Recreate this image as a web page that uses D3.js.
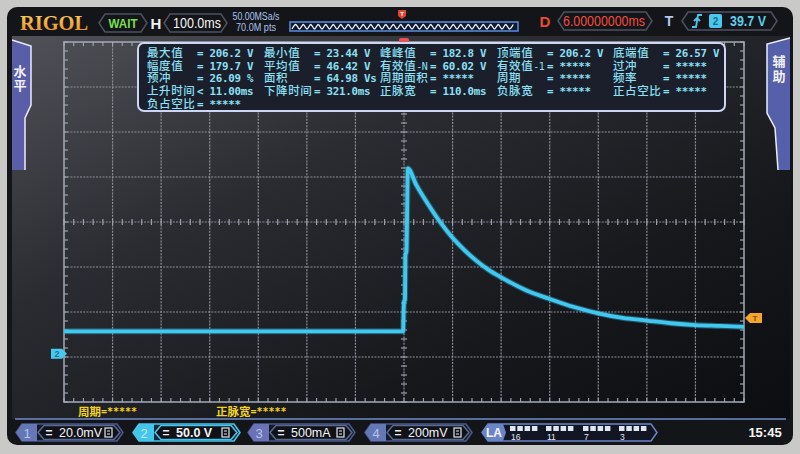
<!DOCTYPE html>
<html><head><meta charset="utf-8">
<script src="https://cdn.jsdelivr.net/npm/d3@7"></script>
<style>html,body{margin:0;padding:0;background:#c8c9c6;}svg{display:block}</style>
</head><body><svg id="c" width="800" height="454"></svg>
<script>
// ---------------- data ----------------
const timeMs   = [-700, -2, 0, 2, 3, 5, 8, 25, 50, 75, 100, 125, 150, 175, 200, 250, 300, 350, 400, 450, 500, 550, 600, 650, 700];
const ch2Volts = [25, 25, 58, 60, 110, 114, 206, 188, 166, 146, 129, 115, 103, 93, 85, 71, 61, 52, 45, 40, 37, 34, 32, 31, 30];
const timePerDivMs = 100;
const voltsPerDiv = 50;
const ch2GroundDiv = -2.93;
const triggerLevelV = 39.7;
const hDivs = 14, vDivs = 8;

const measLabels = [
  ["最大值", "最小值", "峰峰值", "顶端值", "底端值"],
  ["幅度值", "平均值", "有效值-N", "有效值-1", "过冲"],
  ["预冲", "面积", "周期面积", "周期", "频率"],
  ["上升时间", "下降时间", "正脉宽", "负脉宽", "正占空比"],
  ["负占空比"]
];
const measValues = [
  ["= 206.2 V", "= 23.44 V", "= 182.8 V", "= 206.2 V", "= 26.57 V"],
  ["= 179.7 V", "= 46.42 V", "= 60.02 V", "= *****", "= *****"],
  ["= 26.09 %", "= 64.98 Vs", "= *****", "= *****", "= *****"],
  ["< 11.00ms", "= 321.0ms", "= 110.0ms", "= *****", "= *****"],
  ["= *****"]
];
const channelNames  = ["1", "2", "3", "4"];
const channelScales = ["20.0mV", "50.0 V", "500mA", "200mV"];
const laGroupLabels = ["16", "11", "7", "3"];
const bottomStatLabels = ["周期", "正脉宽"];
const bottomStatValues = ["=*****", "=*****"];
const sideTabLeft = "水平";
const sideTabRight = "辅助";

// ---------------- setup ----------------
const svg = d3.select("#c");
const defs = svg.append("defs");
const g1 = defs.append("linearGradient").attr("id","scr").attr("x1",0).attr("y1",0).attr("x2",1).attr("y2",1);
g1.append("stop").attr("offset",0).attr("stop-color","#505257");
g1.append("stop").attr("offset",0.35).attr("stop-color","#2a2c31");
g1.append("stop").attr("offset",0.7).attr("stop-color","#17181c");
g1.append("stop").attr("offset",1).attr("stop-color","#0c0d10");
const g2 = defs.append("linearGradient").attr("id","rig").attr("x1",0).attr("y1",0).attr("x2",0).attr("y2",1);
g2.append("stop").attr("offset",0).attr("stop-color","#ffd060");
g2.append("stop").attr("offset",1).attr("stop-color","#e88a20");

const CJK = "'Noto Sans CJK SC', sans-serif";
const MONO = "'DejaVu Sans Mono', monospace";
const SANS = "'Liberation Sans', Arial, sans-serif";

// bezel + screen
svg.append("rect").attr("width",800).attr("height",454).attr("fill","#c9cac7");
svg.append("rect").attr("x",7).attr("y",7).attr("width",786).attr("height",438).attr("rx",10).attr("fill","#141519");
svg.append("rect").attr("x",12).attr("y",36).attr("width",778).attr("height",383).attr("fill","url(#scr)");

// grid geometry
const gx0 = 64, gx1 = 744, gy0 = 42, gy1 = 402;
const xDiv = d3.scaleLinear().domain([-hDivs/2, hDivs/2]).range([gx0, gx1]);
const yDiv = d3.scaleLinear().domain([-vDivs/2, vDivs/2]).range([gy1, gy0]);
const x = d3.scaleLinear().domain([-hDivs/2*timePerDivMs, hDivs/2*timePerDivMs]).range([gx0, gx1]);
const y = d3.scaleLinear().domain([(-vDivs/2 - ch2GroundDiv)*voltsPerDiv, (vDivs/2 - ch2GroundDiv)*voltsPerDiv]).range([gy1, gy0]);

// side tabs
function vText(str, cx, cy, ls){
  svg.append("text").attr("x",cx).attr("y",cy).attr("writing-mode","vertical-rl").attr("text-anchor","middle")
    .attr("font-family",CJK).attr("font-size",13).attr("font-weight",700).attr("letter-spacing",ls)
    .attr("fill","#f2f2ff").text(str);
}
const tabL = [[12,40],[31,46],[31,105],[25,118],[25,170],[12,170]];
svg.append("path").attr("d", d3.line()(tabL) + "Z").attr("fill","#5a5ea8");
svg.append("path").attr("d", d3.line()([[12,40],[31,46],[31,105],[25,118],[25,170]])).attr("fill","none").attr("stroke","#e8ecff").attr("stroke-width",1.5);
vText(sideTabLeft, 20, 79, 1);
const tabR = [[790,38],[767,44],[767,113],[775,128],[778,170],[790,170]];
svg.append("path").attr("d", d3.line()(tabR) + "Z").attr("fill","#5560aa");
svg.append("path").attr("d", d3.line()([[790,38],[767,44],[767,113],[775,128],[778,170]])).attr("fill","none").attr("stroke","#e8ecff").attr("stroke-width",1.5);
vText(sideTabRight, 779, 70, 2);

// grid
const grid = svg.append("g");
const gridCol = "#8a8e97";
d3.range(-hDivs/2+1, hDivs/2).forEach(d => grid.append("line")
  .attr("x1",xDiv(d)).attr("x2",xDiv(d)).attr("y1",gy0).attr("y2",gy1)
  .attr("stroke",gridCol).attr("stroke-width",1.2).attr("stroke-dasharray","2,1.2"));
d3.range(-vDivs/2+1, vDivs/2).forEach(d => grid.append("line")
  .attr("y1",yDiv(d)).attr("y2",yDiv(d)).attr("x1",gx0).attr("x2",gx1)
  .attr("stroke",gridCol).attr("stroke-width",1.2).attr("stroke-dasharray","2,1.2"));
const tickCol = "#9aa0aa";
d3.range(-hDivs/2, hDivs/2 + 0.01, 0.2).forEach(d => {
  const xx = xDiv(d);
  grid.append("line").attr("x1",xx).attr("x2",xx).attr("y1",yDiv(0)-3).attr("y2",yDiv(0)+3).attr("stroke",tickCol).attr("stroke-width",1.2);
  grid.append("line").attr("x1",xx).attr("x2",xx).attr("y1",gy0).attr("y2",gy0+4).attr("stroke",tickCol).attr("stroke-width",1.2);
  grid.append("line").attr("x1",xx).attr("x2",xx).attr("y1",gy1-4).attr("y2",gy1).attr("stroke",tickCol).attr("stroke-width",1.2);
});
d3.range(-vDivs/2, vDivs/2 + 0.01, 0.2).forEach(d => {
  const yy = yDiv(d);
  grid.append("line").attr("y1",yy).attr("y2",yy).attr("x1",xDiv(0)-3).attr("x2",xDiv(0)+3).attr("stroke",tickCol).attr("stroke-width",1.2);
  grid.append("line").attr("y1",yy).attr("y2",yy).attr("x1",gx0).attr("x2",gx0+4).attr("stroke",tickCol).attr("stroke-width",1.2);
  grid.append("line").attr("y1",yy).attr("y2",yy).attr("x1",gx1-4).attr("x2",gx1).attr("stroke",tickCol).attr("stroke-width",1.2);
});
grid.append("rect").attr("x",gx0).attr("y",gy0).attr("width",gx1-gx0).attr("height",gy1-gy0)
  .attr("fill","none").attr("stroke","#a3aab8").attr("stroke-width",1.5);

// trace
const line = d3.line().x((d,i)=>x(timeMs[i])).y((d,i)=>y(ch2Volts[i])).curve(d3.curveMonotoneX);
svg.append("path").datum(ch2Volts).attr("d",line).attr("fill","none").attr("stroke","#2c9cc4").attr("stroke-width",6).attr("opacity",0.45);
svg.append("path").datum(ch2Volts).attr("d",line).attr("fill","none").attr("stroke","#42c8ee").attr("stroke-width",3.8).attr("stroke-linejoin","round");

// ground marker (ch2)
const gy = y(0);
svg.append("path").attr("d", d3.line()([[51,gy-5],[62,gy-5],[67,gy],[62,gy+5],[51,gy+5]])+"Z").attr("fill","#48c8ec");
svg.append("text").attr("x",57).attr("y",gy+0.5).attr("text-anchor","middle").attr("dominant-baseline","central")
  .attr("font-family",SANS).attr("font-size",9).attr("font-weight",700).attr("fill","#1c7296").text("2");
// trigger level marker
const ty = y(triggerLevelV);
svg.append("path").attr("d", d3.line()([[745,ty],[750,ty-5],[762,ty-5],[762,ty+5],[750,ty+5]])+"Z").attr("fill","#f5a628");
svg.append("text").attr("x",755).attr("y",ty+0.5).attr("text-anchor","middle").attr("dominant-baseline","central")
  .attr("font-family",SANS).attr("font-size",8).attr("font-weight",700).attr("fill","#8a4a00").text("T");
svg.append("rect").attr("x",x(0)-5).attr("y",38).attr("width",10).attr("height",5).attr("rx",2).attr("fill","#e8505a");

// measurement panel
svg.append("rect").attr("x",138).attr("y",43).attr("width",587).attr("height",68).attr("rx",6)
  .attr("fill","#1b1f2c").attr("stroke","#cdd6f2").attr("stroke-width",2);
const colX = [147, 264, 380, 497, 613];
const rowY = [53, 65.7, 78.3, 91, 103.7];
const measCol = "#8ae0f5";
measLabels.forEach((row, r) => row.forEach((lab, c) => {
  const t = svg.append("text").attr("x",colX[c]).attr("y",rowY[r]).attr("dominant-baseline","central")
    .attr("font-family","'DejaVu Sans Mono','Noto Sans CJK SC',monospace").attr("font-weight",500).attr("fill",measCol);
  (lab.match(/[\u4e00-\u9fff]+|[^\u4e00-\u9fff]+/g) || []).forEach(part => {
    const cjk = /[\u4e00-\u9fff]/.test(part);
    t.append("tspan").attr("font-size", cjk ? 11.5 : 10).attr("letter-spacing", cjk ? 0.6 : -0.6).text(part);
  });
  svg.append("text").attr("x",colX[c]+50).attr("y",rowY[r]+0.5).attr("dominant-baseline","central")
    .attr("font-family",MONO).attr("font-size",10.8).attr("font-weight",700).attr("letter-spacing",-0.25)
    .style("white-space","pre").attr("fill",measCol).text(measValues[r][c]);
}));

// top bar
svg.append("text").attr("x",20).attr("y",23).attr("dominant-baseline","central").attr("font-family","'Liberation Serif', serif")
  .attr("font-size",20).attr("font-weight",700).attr("fill","url(#rig)").attr("textLength",68).attr("lengthAdjust","spacingAndGlyphs").text("RIGOL");
function chevBox(x0,x1,y0,y1,stroke,fill){
  const yc=(y0+y1)/2;
  return svg.append("path").attr("d",d3.line()([[x0,yc],[x0+6,y0],[x1-6,y0],[x1,yc],[x1-6,y1],[x0+6,y1]])+"Z")
    .attr("fill",fill||"none").attr("stroke",stroke).attr("stroke-width",1.5);
}
chevBox(99,147,14,32,"#4c5262");
svg.append("text").attr("x",123).attr("y",23).attr("text-anchor","middle").attr("dominant-baseline","central").attr("font-family",SANS)
  .attr("font-size",13).attr("font-weight",700).attr("fill","#78e050").attr("textLength",29).attr("lengthAdjust","spacingAndGlyphs").text("WAIT");
svg.append("text").attr("x",156).attr("y",23).attr("text-anchor","middle").attr("dominant-baseline","central").attr("font-family",SANS)
  .attr("font-size",15).attr("font-weight",700).attr("fill","#f0f0f0").text("H");
chevBox(164,227,14,32,"#4c5262");
svg.append("text").attr("x",197).attr("y",23).attr("text-anchor","middle").attr("dominant-baseline","central").attr("font-family",SANS)
  .attr("font-size",14).attr("fill","#f4f4f4").attr("textLength",48).attr("lengthAdjust","spacingAndGlyphs").text("100.0ms");
svg.append("text").attr("x",256).attr("y",16).attr("text-anchor","middle").attr("dominant-baseline","central").attr("font-family",SANS)
  .attr("font-size",10).attr("fill","#a8c2ee").attr("textLength",47).attr("lengthAdjust","spacingAndGlyphs").text("50.00MSa/s");
svg.append("text").attr("x",256).attr("y",27).attr("text-anchor","middle").attr("dominant-baseline","central").attr("font-family",SANS)
  .attr("font-size",10).attr("fill","#a8c2ee").attr("textLength",40).attr("lengthAdjust","spacingAndGlyphs").text("70.0M pts");
svg.append("rect").attr("x",290).attr("y",22).attr("width",228).attr("height",9).attr("fill","#101a2e").attr("stroke","#5a8ee0").attr("stroke-width",1.5);
const zz = d3.range(0, 60).map(i => [292 + i*3.75, i%2 ? 24.5 : 29]);
svg.append("path").attr("d",d3.line().curve(d3.curveMonotoneX)(zz)).attr("fill","none").attr("stroke","#f4f6ff").attr("stroke-width",1.3);
svg.append("path").attr("d",d3.line()([[398,10],[406,10],[406,16],[402,19],[398,16]])+"Z").attr("fill","#e8402c");
svg.append("text").attr("x",402).attr("y",13.5).attr("text-anchor","middle").attr("dominant-baseline","central").attr("font-family",SANS)
  .attr("font-size",6).attr("font-weight",700).attr("fill","#ffffff").text("T");
svg.append("text").attr("x",545).attr("y",21).attr("text-anchor","middle").attr("dominant-baseline","central").attr("font-family",SANS)
  .attr("font-size",15).attr("font-weight",700).attr("fill","#ee4a2e").text("D");
chevBox(558,652,12,30,"#4c5262");
svg.append("text").attr("x",604).attr("y",21).attr("text-anchor","middle").attr("dominant-baseline","central").attr("font-family",SANS)
  .attr("font-size",14).attr("fill","#f44c3c").attr("textLength",82).attr("lengthAdjust","spacingAndGlyphs").text("6.00000000ms");
svg.append("text").attr("x",669).attr("y",21).attr("text-anchor","middle").attr("dominant-baseline","central").attr("font-family",SANS)
  .attr("font-size",14).attr("font-weight",700).attr("fill","#b4caf2").text("T");
chevBox(682,777,12,30,"#4c5262");
svg.append("path").attr("d","M692,27 L696,27 L698,15 L702,15 M694,21 L697,18 L700,21").attr("fill","none").attr("stroke","#48c8ec").attr("stroke-width",1.8);
svg.append("rect").attr("x",709).attr("y",14).attr("width",13).attr("height",14).attr("rx",2).attr("fill","#48c8ec");
svg.append("text").attr("x",715.5).attr("y",21.5).attr("text-anchor","middle").attr("dominant-baseline","central").attr("font-family",SANS)
  .attr("font-size",10).attr("font-weight",700).attr("fill","#146a8c").text("2");
svg.append("text").attr("x",748).attr("y",21).attr("text-anchor","middle").attr("dominant-baseline","central").attr("font-family",SANS)
  .attr("font-size",14).attr("font-weight",700).attr("fill","#58cfee").attr("textLength",36).attr("lengthAdjust","spacingAndGlyphs").text("39.7 V");

// bottom stats (yellow)
const statX = [78, 216];
bottomStatLabels.forEach((lab,i) => {
  const t = svg.append("text").attr("x",statX[i]).attr("y",411).attr("dominant-baseline","central").attr("fill","#f2d41c").attr("font-weight",700);
  t.append("tspan").attr("font-family",CJK).attr("font-size",11.5).text(lab);
  t.append("tspan").attr("font-family",MONO).attr("font-size",10).text(bottomStatValues[i]);
});

// bottom bar
svg.append("line").attr("x1",15).attr("x2",786).attr("y1",419).attr("y2",419).attr("stroke","#6f8cc8").attr("stroke-width",1.5);
const chX = [16, 133, 248, 365];
const chCol = ["#6478b6","#44c6ec","#6a72b8","#6478b6"];
channelNames.forEach((nm,i) => {
  const x0 = chX[i], x1 = x0 + 107, active = i === 1;
  chevBox(x0, x1, 424, 441, active ? "#44c6ec" : "#4a5a90", active ? "#0f2a36" : "#161a26");
  svg.append("path").attr("d",d3.line()([[x0,432.5],[x0+6,424],[x0+21,424],[x0+21,441],[x0+6,441]])+"Z").attr("fill",chCol[i]);
  svg.append("text").attr("x",x0+11).attr("y",433).attr("text-anchor","middle").attr("dominant-baseline","central").attr("font-family",SANS)
    .attr("font-size",13).attr("fill",active ? "#b8f0ff" : "#b8c4ea").text(nm);
  chevBox(x0+22, x1-3, 425.5, 439.5, active ? "#44c6ec" : "#5a6890", "#101218");
  svg.append("text").attr("x",x0+33).attr("y",432.5).attr("text-anchor","middle").attr("dominant-baseline","central").attr("font-family",SANS)
    .attr("font-size",12).attr("font-weight",700).attr("fill","#e8ecf4").text("=");
  svg.append("text").attr("x",x0+43).attr("y",433).attr("dominant-baseline","central").attr("font-family",SANS)
    .attr("font-size",12.5).attr("font-weight",active?700:400).attr("fill","#f4f6fa").text(channelScales[i]);
  svg.append("rect").attr("x",x0+89).attr("y",428).attr("width",7).attr("height",9).attr("fill","none").attr("stroke","#dfe4f0").attr("stroke-width",1.2);
  svg.append("line").attr("x1",x0+91).attr("x2",x0+94).attr("y1",431).attr("y2",431).attr("stroke","#dfe4f0");
  svg.append("line").attr("x1",x0+91).attr("x2",x0+94).attr("y1",434).attr("y2",434).attr("stroke","#dfe4f0");
});
// LA
chevBox(482, 657, 424, 441, "#6a84c8", "#121622");
svg.append("path").attr("d",d3.line()([[482,432.5],[488,424],[503,424],[506,432.5],[503,441],[488,441]])+"Z").attr("fill","#6a84c8");
svg.append("text").attr("x",494).attr("y",433).attr("text-anchor","middle").attr("dominant-baseline","central").attr("font-family",SANS)
  .attr("font-size",12).attr("font-weight",700).attr("fill","#f4f6ff").text("LA");
const grpX = [510, 546, 583, 619];
grpX.forEach((gx,gi) => {
  d3.range(4).forEach(k => svg.append("rect").attr("x",gx+k*7.3).attr("y",426).attr("width",5.5).attr("height",5)
    .attr("fill","#dfe6f6"));
  svg.append("text").attr("x",gx+1).attr("y",437).attr("dominant-baseline","central").attr("font-family",SANS)
    .attr("font-size",8.5).attr("fill","#e0e6f6").text(laGroupLabels[gi]);
});
svg.append("text").attr("x",765).attr("y",432).attr("text-anchor","middle").attr("dominant-baseline","central").attr("font-family",SANS)
  .attr("font-size",13).attr("font-weight",700).attr("fill","#f4f4f4").text("15:45");
</script></body></html>
